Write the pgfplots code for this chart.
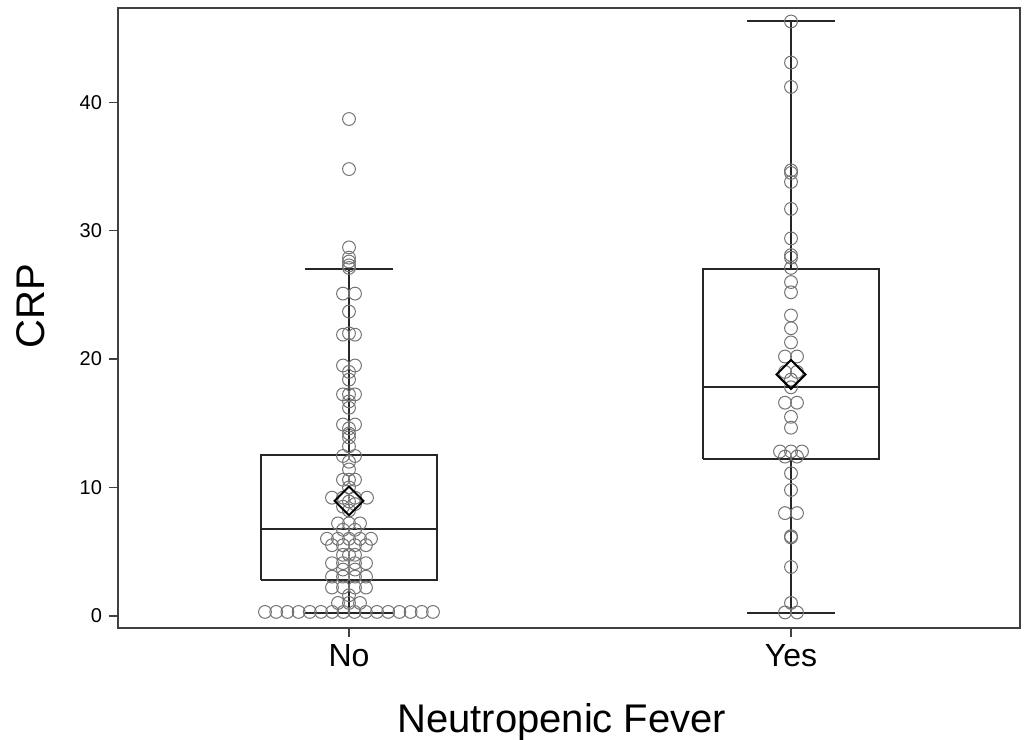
\documentclass[border=0pt]{standalone}
\usepackage{pgfplots}
\usepackage{pgfplotstable}
\pgfplotsset{compat=1.18}
\usepackage{fontspec}
\setmainfont{Liberation Sans}

% x is an offset in px from the category centre (No = 0, Yes = 442)
\pgfplotstableread{
x y
-84 0.3
-72.8 0.3
-61.6 0.3
-50.4 0.3
-39.2 0.3
-28 0.3
-16.8 0.3
-5.6 0.3
5.6 0.3
16.8 0.3
28 0.3
39.2 0.3
50.4 0.3
61.6 0.3
72.8 0.3
84 0.3
-11 1.0
0 1.0
11 1.0
0 1.6
-17 2.2
-6 2.2
6 2.2
17 2.2
-17 3.05
-6 3.05
6 3.05
17 3.05
-6 3.6
6 3.6
-17 4.1
-6 4.1
6 4.1
17 4.1
-6 4.75
0 4.75
6 4.75
-17 5.5
-6 5.5
6 5.5
17 5.5
-22 6.0
-11 6.0
0 6.0
11 6.0
22 6.0
-6 6.7
6 6.7
-11 7.2
0 7.2
11 7.2
0 8.2
-6 8.5
6 8.7
0 8.9
-17 9.2
-6 9.2
6 9.2
18 9.2
0 10.0
-6 10.6
0 10.6
6 10.6
0 11.4
0 12.0
-6 12.45
6 12.45
0 13.2
0 13.9
0 14.2
0 14.6
-6 14.9
6 14.9
0 16.2
0 16.7
-6 17.25
0 17.25
6 17.25
0 18.4
0 19.0
-6 19.5
6 19.5
-6 21.9
0 22.0
6 21.9
0 23.7
-6 25.1
6 25.1
0 27.1
0 27.3
0 27.6
0 27.9
0 28.7
0 34.8
0 38.7
}\nodata

\pgfplotstableread{
x y
0 46.3
0 43.1
0 41.2
0 34.7
0 34.5
0 33.8
0 31.7
0 29.4
0 28.1
0 27.9
0 27.1
0 26.0
0 25.2
0 23.4
0 22.4
0 21.3
-6 20.2
6 20.2
-6 19.0
6 19.0
0 18.4
0 17.8
-6 16.6
6 16.6
0 15.5
0 14.65
-11 12.8
0 12.8
11 12.8
-6 12.4
6 12.4
0 11.1
0 9.8
-6 8.0
6 8.0
0 6.2
0 6.1
0 3.8
0 1.0
-6 0.26
6 0.26
}\yesdata

\begin{document}
\begin{tikzpicture}
\begin{axis}[
  scale only axis, width=451pt, height=310pt,
  xmin=-231, xmax=671, ymin=-0.95, ymax=47.35,
  axis line style={draw=black!75, line width=0.9pt},
  xtick={0,442}, xticklabels={No,Yes},
  ytick={0,10,...,40},
  tick align=outside, tick pos=left,
  major tick length=4.5pt,
  tick style={black!75, line width=0.8pt},
  /pgf/number format/assume math mode=true,
  xticklabel style={font=\fontsize{16}{19}\selectfont},
  yticklabel style={font=\fontsize{10}{12}\selectfont},
  xlabel={Neutropenic Fever}, ylabel={CRP},
  label style={font=\fontsize{20}{24}\selectfont},
  xlabel style={at={(axis description cs:0.492,-0.168)}, anchor=base},
  ylabel style={at={(axis description cs:-0.081,0.519)}, anchor=base},
  box/.style={draw=black!85, line width=1pt, mark=none},
]
% No: whiskers 0.25 / 27.0, quartiles 2.8 / 12.5, median 6.8
\addplot[box] coordinates {(-88,2.8) (88,2.8) (88,12.5) (-88,12.5) (-88,2.8)};
\addplot[box] coordinates {(-88,6.8) (88,6.8)};
\addplot[box] coordinates {(0,12.5) (0,27.0)};
\addplot[box] coordinates {(-44,27.0) (44,27.0)};
\addplot[box] coordinates {(0,2.8) (0,0.25)};
\addplot[box] coordinates {(-44,0.25) (44,0.25)};
% Yes: whiskers 0.25 / 46.3, quartiles 12.2 / 27.0, median 17.8
\addplot[box] coordinates {(354,12.2) (530,12.2) (530,27.0) (354,27.0) (354,12.2)};
\addplot[box] coordinates {(354,17.8) (530,17.8)};
\addplot[box] coordinates {(442,27.0) (442,46.3)};
\addplot[box] coordinates {(398,46.3) (486,46.3)};
\addplot[box] coordinates {(442,12.2) (442,0.25)};
\addplot[box] coordinates {(398,0.25) (486,0.25)};

\addplot[only marks, mark=o, mark size=3.2pt,
  mark options={draw=black!55, line width=0.5pt}] table[x=x, y=y] {\nodata};
\addplot[only marks, mark=o, mark size=3.2pt,
  mark options={draw=black!55, line width=0.5pt}] table[x expr=\thisrow{x}+442, y=y] {\yesdata};

\addplot[only marks, mark=square, mark size=5.1pt,
  mark options={rotate=45, draw=black, line width=1pt}] coordinates {(0,8.95) (442,18.8)};
\end{axis}
\pgfresetboundingbox
\path ([xshift=-59pt,yshift=-56pt]current axis.south west) rectangle ([xshift=4.5pt,yshift=4pt]current axis.north east);
\end{tikzpicture}
\end{document}
